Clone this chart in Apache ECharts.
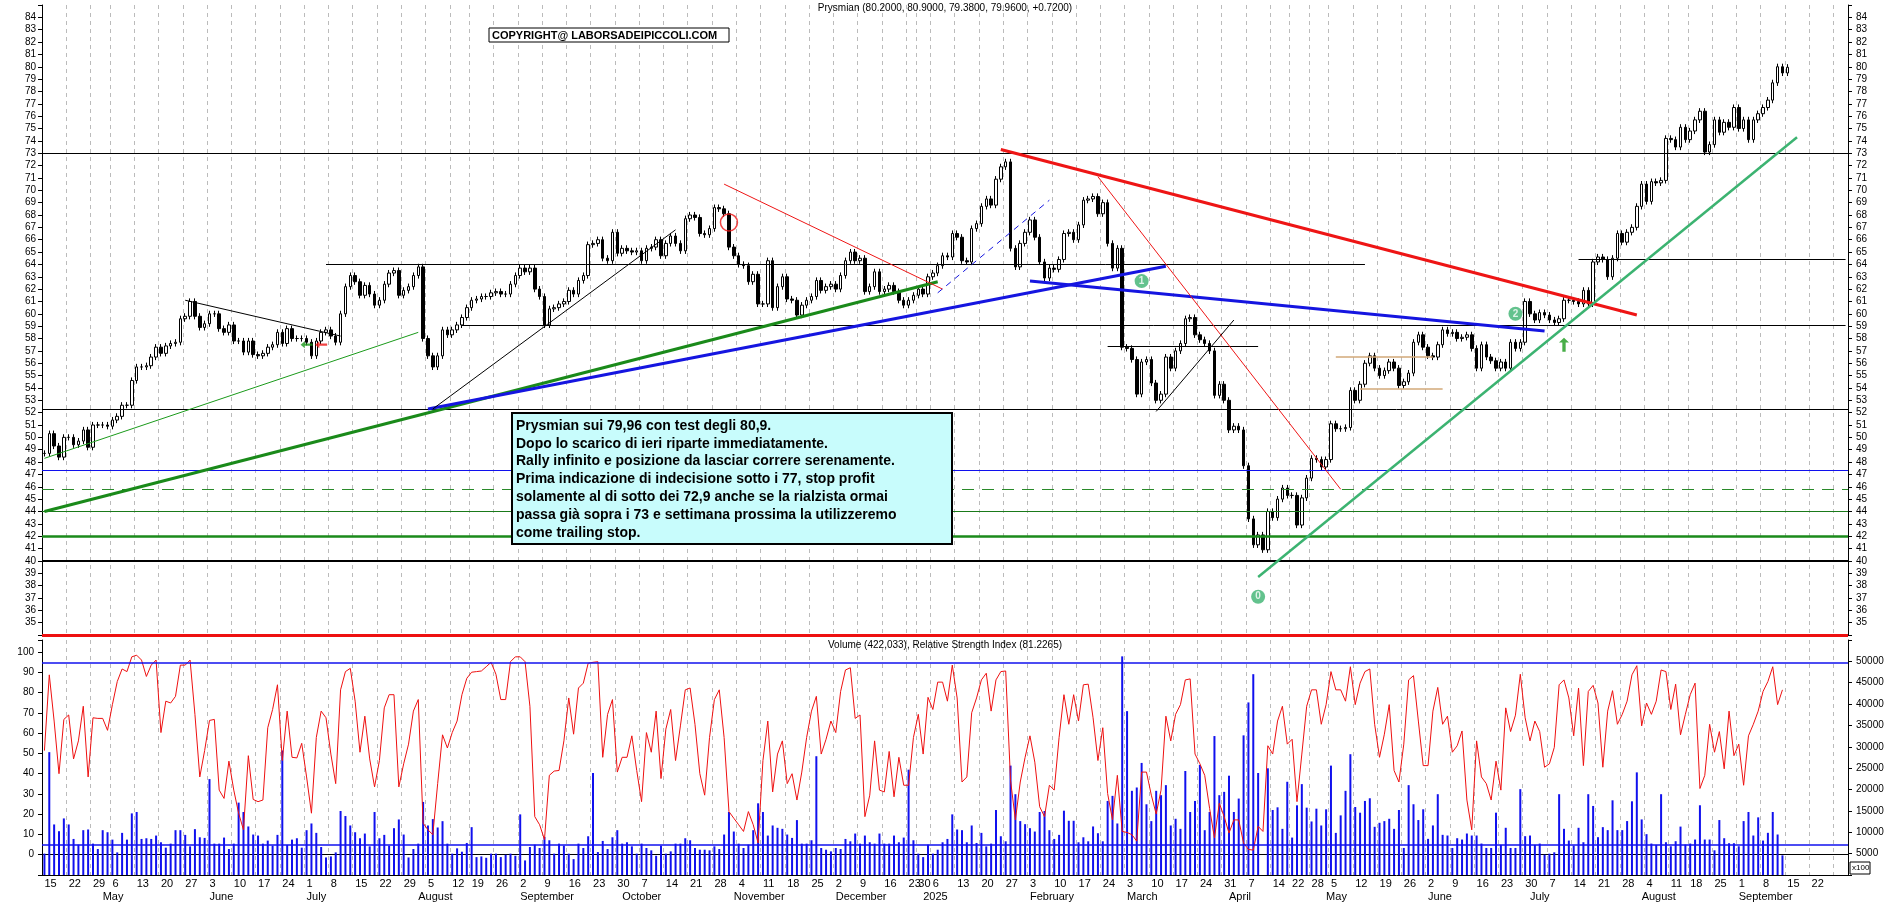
<!DOCTYPE html>
<html>
<head>
<meta charset="utf-8">
<script src="https://cdn.jsdelivr.net/npm/echarts@6/dist/echarts.min.js"></script>
<style>
  html, body { margin: 0; padding: 0; background: #fff; }
  #chart { width: 1890px; height: 902px; }
</style>
</head>
<body>
<div id="chart"></div>
<script>
// daily closes, Apr 15 2024 -> Sep 12 2025
const closes = [
  48.7,50.3,49.3,48.4,50.0,50.0,49.4,49.7,50.6,49.2,51.0,51.0,51.0,50.9,51.4,51.7,52.6,52.6,54.6,55.7,
  55.7,55.8,56.5,57.3,56.8,57.4,57.6,57.7,59.6,59.8,61.0,59.8,58.9,59.2,60.0,60.0,58.8,58.5,59.1,57.8,
  57.8,56.9,57.8,56.7,56.6,56.8,57.3,57.5,58.5,57.6,58.8,58.0,58.0,58.0,57.7,56.6,57.8,58.5,58.7,58.2,
  57.7,60.0,62.2,63.1,62.6,61.5,62.3,61.6,60.7,61.1,62.4,63.3,63.5,61.5,61.9,62.2,63.1,63.8,58.0,56.6,
  55.7,56.6,58.7,58.3,58.7,59.1,59.7,60.5,61.1,61.2,61.4,61.4,61.7,61.8,
  61.6,61.6,62.4,63.1,63.7,63.4,63.7,62.0,61.4,59.1,60.4,60.5,60.8,61.0,61.9,61.6,62.7,63.1,65.6,65.7,
  66.0,64.5,64.3,66.6,64.9,65.3,65.1,65.0,65.1,64.3,65.3,65.4,66.0,64.7,65.7,66.3,65.7,65.1,67.7,68.0,
  67.8,66.5,66.4,66.9,68.6,68.5,68.1,65.4,64.7,64.0,63.9,62.6,63.2,60.8,60.8,64.3,60.5,62.2,63.0,61.2,
  61.1,59.9,60.7,61.1,61.4,62.7,61.9,62.2,62.4,62.0,63.1,64.3,65.0,64.3,64.5,61.8,62.2,63.4,61.8,62.0,
  62.3,61.8,61.1,60.7,61.1,61.5,62.0,61.6,63.0,63.3,63.9,64.7,64.6,
  66.5,66.2,64.3,64.2,66.9,67.3,68.7,69.3,68.8,70.9,71.9,72.3,65.3,63.8,65.7,66.6,67.6,66.2,64.2,62.9,
  63.7,63.6,64.4,66.5,66.6,66.0,67.2,69.2,69.3,69.5,68.1,69.0,65.7,63.7,65.3,57.3,57.2,56.3,53.5,56.1,
  56.3,54.4,53.0,53.5,56.5,55.6,57.0,57.6,59.6,59.7,58.3,57.9,57.6,57.0,53.4,54.3,53.0,50.6,50.9,50.6,
  47.7,43.4,41.3,42.1,40.9,44.0,43.5,45.0,45.9,45.3,45.3,42.9,45.1,46.7,48.3,48.2,47.6,48.2,51.1,50.7,
  50.7,50.8,53.8,53.0,54.3,56.0,56.6,55.6,55.0,55.4,56.1,55.6,
  54.2,54.5,55.2,57.7,58.3,57.3,56.6,56.5,57.5,58.7,58.4,58.5,58.0,58.1,58.3,57.2,55.6,57.5,56.5,56.2,
  55.6,56.1,55.6,57.7,57.2,57.7,61.0,60.0,59.5,60.1,59.9,59.5,59.3,59.6,61.1,61.1,61.0,60.8,61.9,60.8,
  64.2,64.6,64.4,63.0,64.5,66.5,65.8,66.6,67.0,68.7,70.5,69.1,70.7,70.6,70.8,74.2,74.1,73.5,75.1,74.1,
  74.8,75.7,76.4,73.1,73.7,75.7,74.7,75.5,75.1,76.7,75.0,75.7,74.1,75.7,76.2,76.7,77.3,78.7,80.0,79.5,
  79.96
];

const rsi = [
  51.4,88.8,66,40,66.8,69,47.3,56.2,73.3,38.4,67.6,67.3,67.3,61.4,74.1,85.5,91.7,90.4,97.7,98.5,
  96.1,88,93.6,96.1,60.3,75.8,74.9,78.2,93.6,93.6,96.1,69.3,38.4,51.4,66.3,66.8,31.9,27.8,46.2,31.9,
  20.5,12.3,48.9,27.3,26.2,27,62.7,71.7,83.9,46.5,70.9,48.1,47.8,55,38.4,20.5,57.9,70.9,67.6,49.7,
  35.1,81.4,90.4,92,75.8,50.6,68.4,47.3,33.5,46.5,72.5,79,79,33.5,44.9,54.6,70.9,76.6,15.6,12.3,
  9.9,35.1,59.2,52.7,60.3,66,79,87.1,90.1,90.4,90.7,92.8,95,89.1,
  76.6,76.6,95.3,97.7,97.7,95.3,73.3,18.8,14.8,7.5,39.2,41.3,41.6,56.2,77.4,59.5,82.3,84.7,94.5,95,
  95.3,48.1,69.3,76.6,40.8,48.1,48.1,58.7,41.6,26.2,60.3,50.6,70.9,37.6,62,71.7,46.5,63.6,81.4,82.3,
  64.4,40,29.4,57.9,76.6,81.4,57.9,21.3,18,14.8,11.5,21.3,14.8,5.8,46.5,66,31,49.7,56.2,35.1,
  40,27,40.8,57.9,70.9,78.2,49.7,57,66,60.3,80.6,91.2,92.3,67.3,69,18.8,29.4,56.2,31.9,31,
  51,28.6,48.1,34.3,34.3,57.9,69.3,49.7,77.7,71.7,85.2,85.2,75.8,
  93.6,77.4,35.9,38.4,70.1,77.4,86.3,89.6,70.9,86.3,90.4,90.7,36.7,17.2,35.9,48.1,58.7,45.7,23.7,18.8,
  34.3,31.9,57.9,79,64.4,79,66,83.9,84.2,67.6,46.5,62.7,30.2,17.2,39.2,11.5,11,9.9,6.7,40.8,
  40.8,29.4,20.1,31.9,68.4,56.2,69.3,74.1,86.3,86.8,49.7,44.9,39.2,22.9,8.3,25.4,18.8,10.7,17.2,17.2,
  5.8,2.6,2.3,14,11.5,53.8,49.7,66,73.3,54.6,57,26.2,49.7,73.3,81.4,81.4,64.4,74.1,90.4,81.4,
  81.4,75.8,92.8,74.1,84.7,90.4,91.7,64.4,48.1,59.5,74.1,41.6,
  35.9,54.6,86.3,88.4,66,44,44,70.9,82.6,64.4,68.4,50.6,53.8,61.1,27,12.3,56.2,38.4,35.1,27,
  46.2,31.9,72.5,60.8,68.9,89.1,67.6,56.2,66,60.8,43.2,44.9,53,83.9,86.3,77.4,58.7,82.3,44,80.6,
  83.6,74.9,43.2,70.9,81,64.4,69.3,75.8,88.8,93.3,63.6,74.9,69.3,75.8,91.2,90.4,71.7,84.2,59.2,69.3,
  79,84.7,32.7,39.2,64.4,50.6,60.8,42.4,70.9,48.9,54.6,34.3,58.7,64.4,70.9,80.6,85.5,92.8,74.1,81.4
];

// volume, in hundreds of shares
const volume = [
  5000,28750,11830,10250,13240,11830,8440,7100,10490,10650,7340,6080,10490,10010,8280,5290,9860,8280,14420,14740,
  8440,8600,8440,9230,7660,6400,7340,10490,10490,9390,6710,10730,8830,8680,22450,7340,7340,8760,6080,7340,
  16940,14740,11360,9470,9230,7340,8050,6870,9390,29140,7030,8280,8600,6400,10490,12060,9860,6550,4110,4350,
  5290,14980,13800,11590,10010,8600,9700,6710,14740,8600,9390,6870,10960,13000,9470,4110,6080,7340,17100,11590,
  13080,11120,12600,7340,5000,6240,5450,7500,11200,4190,4350,4030,5000,5000,
  4190,4740,5000,4500,14190,3410,6550,7100,6320,8910,8130,5000,7340,6870,5000,3720,7340,6320,9070,23870,
  5370,7970,6080,8830,10490,7340,7660,6710,5000,7340,6320,5770,4500,6870,5000,5530,7340,7340,8600,8130,
  6320,5920,5920,5770,6710,6080,9470,14740,10170,7340,6320,7100,10490,16780,14740,9230,11590,11040,10800,9470,
  8680,12850,7340,7340,8130,27800,6320,5920,5530,6320,6080,8440,7890,9700,7340,9230,7660,7340,9700,7340,
  7340,9230,7660,8760,24650,8130,5000,4190,7100,5000,5920,7660,8440,
  14190,10650,10490,7660,11590,7500,9860,6710,7340,15210,9070,7890,25600,18910,12610,11900,10960,10170,14740,14980,
  10490,8440,9390,15050,12690,12690,7660,8830,7890,11360,9780,7890,17330,18520,12060,51170,38350,19700,20480,26230,
  16550,12610,19700,18680,21030,11590,13160,10800,24340,14740,17330,25760,10490,14740,32520,18680,19460,23240,14740,17890,
  32680,40390,47000,23870,0,24970,15210,15840,10800,21820,8760,16310,21270,15760,12530,15520,11590,15370,25600,9860,
  13950,19700,28270,15920,14580,17330,17960,11280,12220,12610,13160,10800,
  15220,6330,21030,16560,12860,15380,8460,11600,18910,9400,9240,6330,8610,8300,9710,9240,9240,7360,6330,6330,
  14590,7040,11050,6330,6330,20090,9090,9240,7040,7360,4760,5000,5310,18910,10810,8060,6880,11050,7670,18910,
  16160,8850,11200,10500,17480,10500,10500,12620,17250,24020,13010,9560,7360,7040,18910,7670,6730,7910,11330,7120,
  7360,8300,16320,8300,8300,5780,12860,8610,7440,7440,6730,12620,14740,9240,13490,8060,9870,14740,9480,4600
];

const holidays = ['2024-05-01', '2024-08-15', '2024-12-24', '2024-12-25', '2024-12-26', '2024-12-31',
  '2025-01-01', '2025-04-18', '2025-04-21', '2025-05-01', '2025-08-15'];
const monthNames = ['January', 'February', 'March', 'April', 'May', 'June', 'July', 'August',
  'September', 'October', 'November', 'December'];
const textLines = [
  'Prysmian sui 79,96 con test degli 80,9.',
  'Dopo lo scarico di ieri riparte immediatamente.',
  'Rally infinito e posizione da lasciar correre serenamente.',
  'Prima indicazione di indecisione sotto i 77, stop profit',
  'solamente al di sotto dei 72,9 anche se la rialzista ormai',
  'passa già sopra i 73 e settimana prossima la utilizzeremo',
  'come trailing stop.'
];

// trading-day categories
const dates = [];
let t = Date.UTC(2024, 3, 15);
while (dates.length < 372) {
  const d = new Date(t);
  const s = d.toISOString().slice(0, 10);
  if (d.getUTCDay() !== 0 && d.getUTCDay() !== 6 && holidays.indexOf(s) < 0) dates.push(s);
  t += 86400000;
}
const weekStart = dates.map((s, i) => i === 0 || new Date(s).getUTCDay() < new Date(dates[i - 1]).getUTCDay());
const monthStart = dates.map((s, i) => i > 0 && s.slice(5, 7) !== dates[i - 1].slice(5, 7));
const dayLabel = (i) => weekStart[i] && i < 368;
const monthLabel = (i) => monthStart[i] && i < 365;

const candles = closes.map((c, i) => {
  const o = i === 0 ? c : closes[i - 1];
  return [o, c, Math.min(o, c) - 0.25, Math.max(o, c) + 0.25];
});

const D = i => dates[i];
const ln = (a, va, b, vb, color, width, type) => [
  { coord: [D(a), va], lineStyle: { color: color, width: width, type: type || 'solid' } },
  { coord: [D(b), vb] }
];
const hl = (v, color, width, type) => ({ yAxis: v, lineStyle: { color: color, width: width, type: type || 'solid' } });

const dash = { show: true, interval: (i) => weekStart[i], lineStyle: { color: '#bbb', type: [4, 4], width: 1 } };
const font = 'Liberation Sans';

const chart = echarts.init(document.getElementById('chart'));
chart.setOption({
  animation: false,
  textStyle: { fontFamily: font },
  grid: [
    { left: 42, right: 42, top: 5, height: 630 },
    { left: 42, right: 42, top: 640, height: 235 }
  ],
  xAxis: [
    { type: 'category', gridIndex: 0, data: dates, axisLabel: { show: false }, axisTick: { show: false },
      axisLine: { show: false }, splitLine: dash },
    { type: 'category', gridIndex: 1, data: dates, splitLine: dash,
      axisLine: { lineStyle: { color: '#000' } },
      axisTick: { interval: (i) => weekStart[i], length: 14, lineStyle: { color: '#000' } },
      axisLabel: { interval: dayLabel, formatter: v => String(+v.slice(8)), align: 'left',
        margin: 3, fontSize: 11, color: '#000', fontFamily: font } },
    { type: 'category', gridIndex: 1, data: dates, position: 'bottom', offset: 15,
      axisLine: { lineStyle: { color: '#000' } },
      axisTick: { interval: (i) => monthStart[i], length: 12, lineStyle: { color: '#000' } },
      axisLabel: { interval: monthLabel, align: 'left', margin: 1, fontSize: 11, color: '#000',
        formatter: v => (v.slice(0, 7) === '2025-01' ? '2025' : monthNames[+v.slice(5, 7) - 1]) } }
  ],
  yAxis: [
    { type: 'value', gridIndex: 0, min: 34, max: 85, interval: 1, position: 'left', splitLine: { show: false },
      axisLine: { show: true, lineStyle: { color: '#000' } }, axisTick: { show: true, length: 4 },
      axisLabel: { fontSize: 10, color: '#000', margin: 6, formatter: v => (v >= 35 && v <= 84 ? v : '') } },
    { type: 'value', gridIndex: 0, min: 34, max: 85, interval: 1, position: 'right', splitLine: { show: false },
      axisLine: { show: true, lineStyle: { color: '#000' } }, axisTick: { show: true, length: 4 },
      axisLabel: { fontSize: 10, color: '#000', margin: 8, formatter: v => (v >= 35 && v <= 84 ? v : '') } },
    { type: 'value', gridIndex: 1, min: -10, max: 106, interval: 10, position: 'left', splitLine: { show: false },
      axisLine: { show: true, lineStyle: { color: '#000' } }, axisTick: { show: true, length: 4 },
      axisLabel: { fontSize: 10, color: '#000', margin: 8, formatter: v => (v >= 0 && v <= 100 ? v : '') } },
    { type: 'value', gridIndex: 1, min: 0, max: 55000, interval: 5000, position: 'right', splitLine: { show: false },
      axisLine: { show: true, lineStyle: { color: '#000' } }, axisTick: { show: true, length: 4 },
      axisLabel: { fontSize: 10, color: '#000', margin: 8, formatter: v => (v > 0 && v <= 50000 ? v : '') } }
  ],
  series: [
    {
      type: 'candlestick', xAxisIndex: 0, yAxisIndex: 0, data: candles, barWidth: 3,
      itemStyle: { color: '#fff', color0: '#000', borderColor: '#000', borderColor0: '#000', borderWidth: 1 },
      markLine: {
        silent: true, symbol: ['none', 'none'], label: { show: false },
        data: [
          hl(73, '#000', 1), hl(52.3, '#000', 1), hl(40, '#000', 2), hl(42, '#1a8a1a', 2.5),
          hl(44, '#1a7a1a', 1.2), hl(45.8, '#2a8a2a', 1.2, [12, 8]), hl(47.3, '#1010ee', 1.2), hl(34, '#ee1010', 3),
          ln(58, 64, 272, 64, '#000', 1), ln(316, 64.4, 371, 64.4, '#000', 1),
          ln(86, 59.1, 371, 59.1, '#000', 1), ln(219, 57.4, 250, 57.4, '#000', 1),
          ln(266, 56.5, 286, 56.5, '#d2a878', 1.5), ln(271, 53.9, 288, 53.9, '#d2a878', 1.5),
          ln(0, 48.3, 77, 58.5, '#1a9a1a', 1), ln(0, 44, 184, 62.6, '#1a8a1a', 3),
          ln(79, 52.3, 231, 63.85, '#1515e0', 3), ln(203, 62.65, 309, 58.6, '#1515e0', 3),
          ln(197, 73.3, 328, 59.9, '#ee1515', 3), ln(140, 70.5, 185, 62, '#ee1515', 1),
          ln(217, 71.1, 267, 45.8, '#ee1515', 1), ln(80, 52.3, 130, 66.8, '#000', 1),
          ln(229, 52.1, 245, 59.5, '#000', 1), ln(29, 61.1, 61, 58.2, '#000', 1),
          ln(250, 38.7, 361, 74.3, '#3cb371', 2.5), ln(184, 61.7, 207, 69.2, '#1515e0', 1, [6, 5])
        ]
      }
    },
    {
      type: 'scatter', xAxisIndex: 0, yAxisIndex: 0, symbolSize: 14, silent: true,
      itemStyle: { color: '#3cb371' },
      label: { show: true, position: 'inside', color: '#fff', fontWeight: 'bold', fontSize: 10, formatter: p => p.data[2] },
      data: [[D(226), 62.65, '1'], [D(250), 37.1, '0'], [D(303), 60.0, '2']]
    },
    {
      type: 'scatter', xAxisIndex: 0, yAxisIndex: 0, silent: true, symbol: 'circle', symbolSize: 17,
      itemStyle: { color: 'transparent', borderColor: '#ee1515', borderWidth: 1.5 },
      data: [[D(141), 67.4]]
    },
    {
      type: 'scatter', xAxisIndex: 0, yAxisIndex: 0, silent: true,
      symbol: 'path://M0,-10 L6,-3 L2,-3 L2,10 L-2,10 L-2,-3 L-6,-3 Z',
      data: [
        { value: [D(313), 57.5], symbolSize: [10, 14], itemStyle: { color: '#1a9a1a' } },
        { value: [D(54), 57.5], symbolSize: [7, 12], symbolRotate: 90, itemStyle: { color: '#1a9a1a' } },
        { value: [D(57), 57.5], symbolSize: [7, 12], symbolRotate: 90, itemStyle: { color: '#ee1515' } }
      ]
    },
    {
      type: 'bar', xAxisIndex: 1, yAxisIndex: 3, data: volume, barWidth: 2,
      itemStyle: { color: '#1010ee' }, silent: true
    },
    {
      type: 'line', xAxisIndex: 1, yAxisIndex: 2, data: rsi, showSymbol: false, silent: true,
      lineStyle: { color: '#ee1010', width: 1 },
      markLine: {
        silent: true, symbol: ['none', 'none'], label: { show: false },
        data: [hl(95, '#1010ee', 1.5), hl(5, '#1010ee', 1.5)]
      }
    }
  ],
  graphic: [
    { type: 'text', left: 'center', top: 3, z: 100,
      style: { text: 'Prysmian (80.2000, 80.9000, 79.3800, 79.9600, +0.7200)', font: '10px ' + font, fill: '#000' } },
    { type: 'text', left: 'center', top: 640, z: 100,
      style: { text: 'Volume (422,033), Relative Strength Index (81.2265)', font: '10px ' + font, fill: '#000' } },
    { type: 'rect', z: 100, shape: { x: 489, y: 28, width: 240, height: 14 }, style: { fill: '#fff', stroke: '#000', lineWidth: 1 } },
    { type: 'text', z: 101, x: 492, y: 30,
      style: { text: 'COPYRIGHT@ LABORSADEIPICCOLI.COM', font: 'bold 11px ' + font, fill: '#000' } },
    { type: 'rect', z: 100, shape: { x: 512, y: 413, width: 440, height: 131 },
      style: { fill: '#c8fcfc', stroke: '#000', lineWidth: 2 } },
    { type: 'text', z: 101, x: 516, y: 417,
      style: { text: textLines.join('\n'), font: 'bold 14px ' + font, lineHeight: 17.8, fill: '#000',
        verticalAlign: 'top' } },
    { type: 'rect', z: 100, shape: { x: 1850, y: 862, width: 20, height: 12 }, style: { fill: '#fff', stroke: '#000', lineWidth: 1 } },
    { type: 'text', z: 101, x: 1852, y: 864, style: { text: 'x100', font: '8px ' + font, fill: '#000' } }
  ]
});
</script>
</body>
</html>
